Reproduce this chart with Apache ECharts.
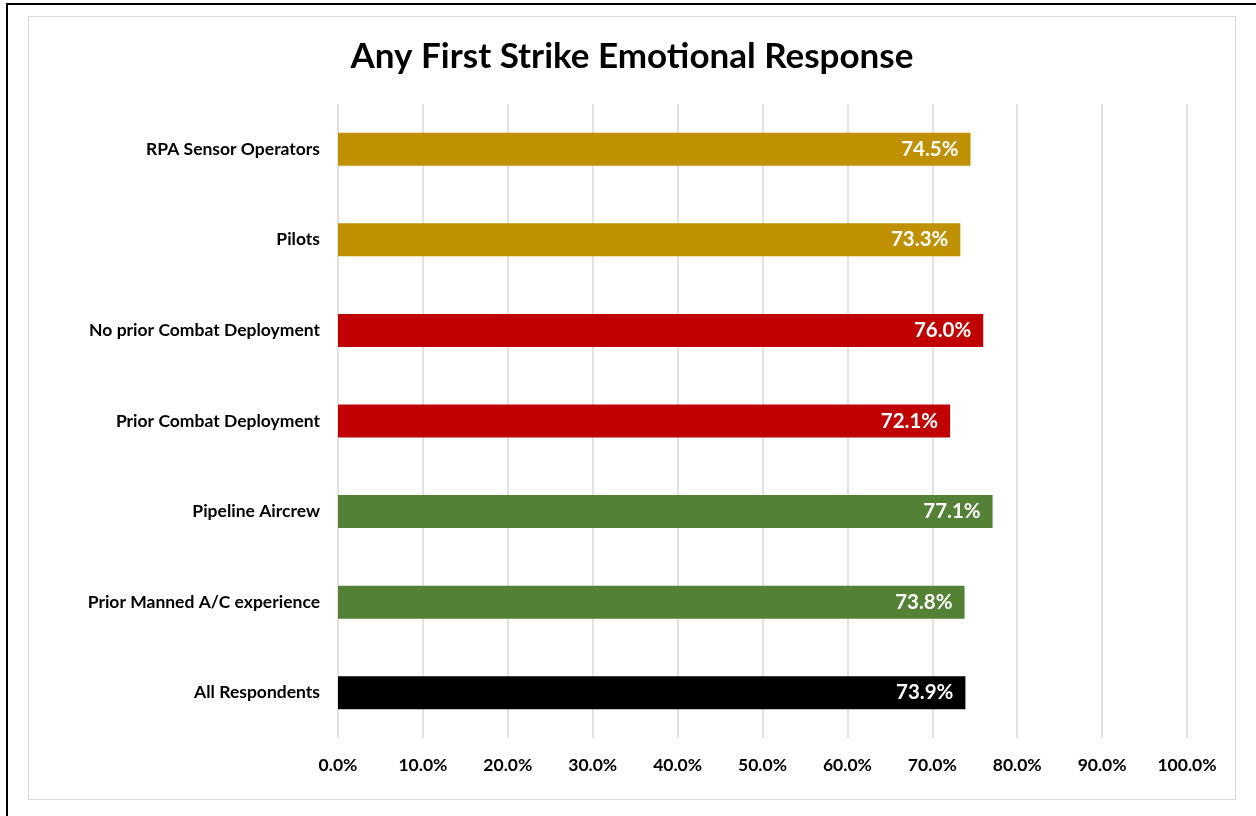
<!DOCTYPE html>
<html>
<head>
<meta charset="utf-8">
<title>Any First Strike Emotional Response</title>
<script src="https://cdn.jsdelivr.net/npm/echarts@6/dist/echarts.min.js"></script>
<style>
    html, body { margin: 0; padding: 0; background: #fff; }
    #frame {
        position: absolute; left: 6px; top: 3px; width: 1300px; height: 900px;
        border: 2px solid #000; box-sizing: border-box;
    }
    #main {
        position: absolute; left: 28px; top: 16px; width: 1206px; height: 782px;
        border: 1px solid #d9d9d9; background: #fff;
    }
</style>
</head>
<body>
<div id="frame"></div>
<div id="main"></div>
<script>
    // data, top to bottom
    var categories = [
        'RPA Sensor Operators',
        'Pilots',
        'No prior Combat Deployment',
        'Prior Combat Deployment',
        'Pipeline Aircrew',
        'Prior Manned A/C experience',
        'All Respondents'
    ];
    var values = [74.5, 73.3, 76.0, 72.1, 77.1, 73.8, 73.9];
    var barColors = ['#BF9000', '#BF9000', '#C00000', '#C00000', '#538135', '#538135', '#000000'];

    var font = 'Lato, "Open Sans", sans-serif';

    var chart = echarts.init(document.getElementById('main'), null, { renderer: 'canvas' });

    var option = {
        animation: false,
        title: {
            text: 'Any First Strike Emotional Response',
            left: 'center',
            top: 17,
            textStyle: { fontFamily: font, fontSize: 35, fontWeight: 'bold', color: '#000' }
        },
        grid: { left: 309, right: 48, top: 87, bottom: 61 },
        xAxis: {
            type: 'value',
            min: 0,
            max: 100,
            interval: 10,
            axisLine: { show: false },
            axisTick: { show: false },
            splitLine: { lineStyle: { color: '#d9d9d9', width: 1.5 } },
            axisLabel: {
                margin: 18,
                fontFamily: font, fontSize: 17.5, fontWeight: 'bold', color: '#000',
                formatter: function (v) { return v.toFixed(1) + '%'; }
            }
        },
        yAxis: {
            type: 'category',
            inverse: true,
            data: categories,
            axisLine: { show: false },
            axisTick: { show: false },
            axisLabel: {
                margin: 18,
                fontFamily: font, fontSize: 17.5, fontWeight: 'bold', color: '#000'
            }
        },
        series: [{
            type: 'bar',
            barWidth: 33,
            data: values.map(function (v, i) {
                return { value: v, itemStyle: { color: barColors[i] } };
            }),
            label: {
                show: true,
                position: 'insideRight',
                distance: 12,
                fontFamily: font, fontSize: 20.5, fontWeight: 'bold', color: '#fff',
                formatter: function (p) { return p.value.toFixed(1) + '%'; }
            }
        }]
    };

    chart.setOption(option);
</script>
</body>
</html>
